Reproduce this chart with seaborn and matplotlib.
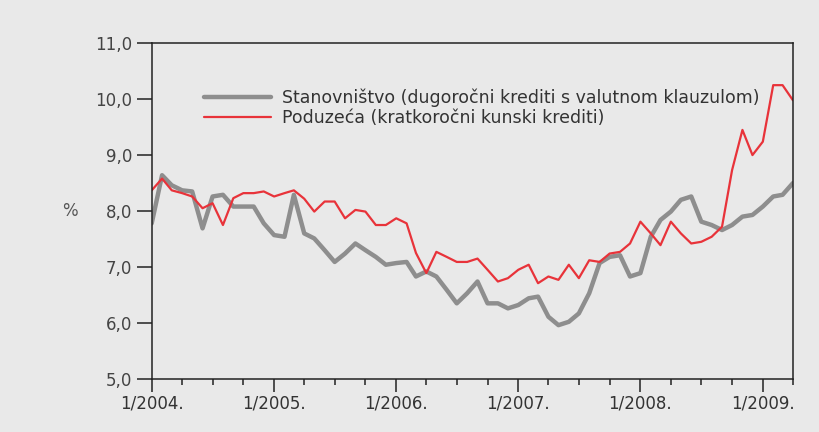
import matplotlib
matplotlib.use("Agg")
import matplotlib.pyplot as plt
import matplotlib.dates as mdates
from matplotlib import font_manager
import seaborn as sns
import pandas as pd
import numpy as np

# monthly data, 1/2004 - 4/2009
months = pd.date_range("2004-01-01", periods=64, freq="MS")

stanovnistvo = [
    7.78, 8.64, 8.46, 8.37, 8.35, 7.69, 8.26, 8.29, 8.08, 8.08, 8.08, 7.78,
    7.57, 7.54, 8.29, 7.60, 7.51, 7.30, 7.09, 7.24, 7.42, 7.30, 7.18, 7.04,
    7.07, 7.09, 6.83, 6.92, 6.83, 6.59, 6.35, 6.53, 6.74, 6.35, 6.35, 6.26,
    6.32, 6.44, 6.47, 6.11, 5.96, 6.02, 6.17, 6.53, 7.07, 7.18, 7.21, 6.83,
    6.89, 7.54, 7.84, 7.99, 8.20, 8.26, 7.81, 7.75, 7.66, 7.75, 7.90, 7.93,
    8.08, 8.26, 8.29, 8.50,
]
poduzeca = [
    8.37, 8.58, 8.37, 8.32, 8.26, 8.05, 8.14, 7.75, 8.23, 8.32, 8.32, 8.35,
    8.26, 8.32, 8.37, 8.22, 7.99, 8.17, 8.17, 7.87, 8.02, 7.99, 7.75, 7.75,
    7.87, 7.78, 7.25, 6.89, 7.27, 7.18, 7.09, 7.09, 7.15, 6.95, 6.74, 6.80,
    6.95, 7.04, 6.71, 6.83, 6.77, 7.04, 6.80, 7.12, 7.09, 7.24, 7.27, 7.42,
    7.81, 7.60, 7.39, 7.81, 7.60, 7.42, 7.45, 7.54, 7.72, 8.73, 9.45, 9.00,
    9.24, 10.25, 10.25, 9.98,
]

label_stan = "Stanovništvo (dugoročni krediti s valutnom klauzulom)"
label_pod = "Poduzeća (kratkoročni kunski krediti)"

df = pd.DataFrame({
    "datum": list(months) * 2,
    "stopa": stanovnistvo + poduzeca,
    "serija": [label_stan] * len(months) + [label_pod] * len(months),
})

bg = "#e9e9e9"
sns.set_theme(style="ticks")
installed = {f.name for f in font_manager.fontManager.ttflist}
fams = [f for f in ["Liberation Sans Narrow", "DejaVu Sans Condensed"] if f in installed]
plt.rcParams["font.family"] = fams + ["DejaVu Sans"]

fig = plt.figure(figsize=(8.2, 4.32), dpi=100, facecolor=bg)
ax = fig.add_axes([0.185, 0.123, 0.782, 0.777], facecolor=bg)

sns.lineplot(data=df[df["serija"] == label_stan], x="datum", y="stopa",
             color="#8e8e8e", linewidth=3.2, ax=ax, label=label_stan)
sns.lineplot(data=df[df["serija"] == label_pod], x="datum", y="stopa",
             color="#e8333a", linewidth=1.6, ax=ax, label=label_pod)

ax.set_xlim(months[0], months[-1])
ax.set_ylim(5, 11)
ax.set_yticks(np.arange(5, 11.01, 1))
ax.set_yticklabels([f"{v:.1f}".replace(".", ",") for v in np.arange(5, 11.01, 1)])

ax.xaxis.set_major_locator(mdates.MonthLocator(bymonth=[1]))
ax.xaxis.set_minor_locator(mdates.MonthLocator(bymonth=[1, 4, 7, 10]))
ax.xaxis.set_major_formatter(mdates.DateFormatter("1/%Y."))

for s in ax.spines.values():
    s.set_color("#222222")
    s.set_linewidth(1.1)

ax.tick_params(axis="x", which="major", length=9.5, width=1.1, color="#222222",
               labelsize=12, labelcolor="#333333", pad=2, direction="out")
ax.tick_params(axis="x", which="minor", length=4, width=1.1, color="#222222",
               direction="out")
ax.tick_params(axis="y", which="major", length=11, width=1.1, color="#222222",
               labelsize=12, labelcolor="#444444", pad=3)

ax.set_xlabel("")
ax.set_ylabel("%", rotation=0, fontsize=12, color="#555555", labelpad=18, va="center")

leg = ax.legend(loc="upper left", bbox_to_anchor=(0.07, 0.885), frameon=False,
                fontsize=12.5, handlelength=3.9, handletextpad=0.6,
                labelspacing=0.1, borderaxespad=0)
for t in leg.get_texts():
    t.set_color("#333333")

fig.savefig("out.png", dpi=100, facecolor=bg)
